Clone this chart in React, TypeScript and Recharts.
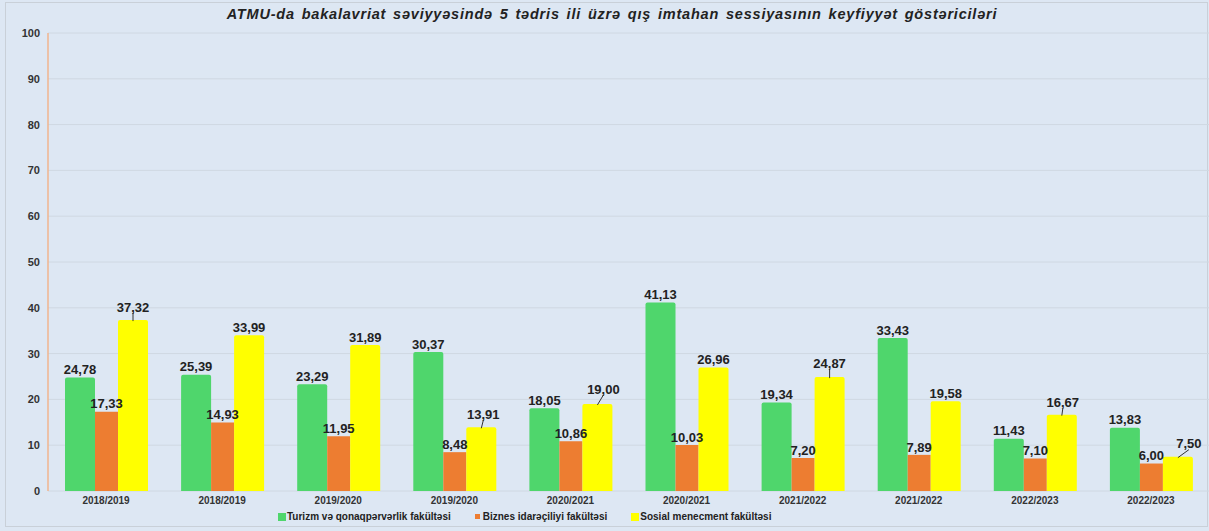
import React from 'react';
import { BarChart, Bar, XAxis, YAxis, CartesianGrid, LabelList } from 'recharts';

const W = 1209;
const H = 531;

const years = [
  '2018/2019', '2018/2019', '2019/2020', '2019/2020', '2020/2021',
  '2020/2021', '2021/2022', '2021/2022', '2022/2023', '2022/2023',
];
const turizm = [24.78, 25.39, 23.29, 30.37, 18.05, 41.13, 19.34, 33.43, 11.43, 13.83];
const biznes = [17.33, 14.93, 11.95, 8.48, 10.86, 10.03, 7.2, 7.89, 7.1, 6.0];
const sosial = [37.32, 33.99, 31.89, 13.91, 19.0, 26.96, 24.87, 19.58, 16.67, 7.5];
const yTicks = [0, 10, 20, 30, 40, 50, 60, 70, 80, 90, 100];

const seriesNames = [
  'Turizm və qonaqpərvərlik fakültəsi',
  'Biznes idarəçiliyi fakültəsi',
  'Sosial menecment fakültəsi',
];
const title =
  'ATMU-da bakalavriat səviyyəsində 5 tədris ili üzrə qış imtahan sessiyasının keyfiyyət göstəriciləri';

// label shifts for the yellow series where the label was dragged off the bar (leader line)
const yellowShift: [number, number][] = [
  [0, -5], [0, 0], [0, 0], [2, -5], [6, -7], [0, 0], [0, -6], [0, 0], [1, -4], [11, -5],
];

const GREEN = '#4fd66c';
const ORANGE = '#ed7d31';
const YELLOW = '#ffff00';
const BG = '#dde7f3';
const FONT = '"Liberation Sans", Arial, sans-serif';

const data = years.map((y, i) => ({
  year: y,
  turizm: turizm[i],
  biznes: biznes[i],
  sosial: sosial[i],
}));

const fmt = (v: number) => v.toFixed(2).replace('.', ',');

const makeLabel = (shifts?: [number, number][]) => (props: any) => {
  const { x, y, width, value, index } = props;
  const cx = Number(x) + Number(width) / 2;
  const top = Number(y);
  const [dx, dy] = shifts ? shifts[index] : [0, 0];
  const ly = top - 8 + dy;
  const lx = cx + dx;
  return (
    <g>
      {(dx !== 0 || dy !== 0) && (
        <line x1={cx} y1={top + 1} x2={lx} y2={ly + 6} stroke="#333" strokeWidth={1} />
      )}
      <text
        x={lx}
        y={ly}
        dy="0.36em"
        textAnchor="middle"
        fontFamily={FONT}
        fontWeight="bold"
        fontSize={13}
        fill="#222"
      >
        {fmt(Number(value))}
      </text>
    </g>
  );
};

const legendSizes = [8, 5, 8];
const legendColors = [GREEN, ORANGE, YELLOW];

export default function App() {
  return (
    <div
      style={{
        position: 'absolute',
        left: 0,
        top: 0,
        width: W,
        height: H,
        background: BG,
        fontFamily: FONT,
      }}
    >
      <div
        style={{
          position: 'absolute',
          left: 5,
          top: 2,
          width: W - 6,
          height: 525,
          border: '1px solid #c9d0d8',
          boxSizing: 'border-box',
        }}
      />
      <div
        style={{
          position: 'absolute',
          left: 0,
          top: 6,
          width: 1224,
          textAlign: 'center',
          fontSize: 14.5,
          letterSpacing: 0.8,
          wordSpacing: 2,
          fontWeight: 'bold',
          fontStyle: 'italic',
          color: '#222',
        }}
      >
        {title}
      </div>
      <div style={{ position: 'absolute', left: 0, top: 0 }}>
        <BarChart
          width={W}
          height={H}
          data={data}
          margin={{ top: 33, right: 0, bottom: 0, left: 0 }}
          barGap={0}
          barCategoryGap={0}
        >
          <CartesianGrid vertical={false} stroke="#cfd8e2" strokeWidth={1} />
          <XAxis
            dataKey="year"
            height={40}
            axisLine={false}
            tickLine={false}
            tickSize={0}
            tickMargin={6}
            interval={0}
            tick={{ fontSize: 10, fontWeight: 'bold', fill: '#333', fontFamily: FONT }}
          />
          <YAxis
            width={48}
            domain={[0, 100]}
            ticks={yTicks}
            interval={0}
            axisLine={{ stroke: '#f1b58e', strokeWidth: 1.5 }}
            tickLine={false}
            tickSize={0}
            tickMargin={8}
            tick={{ fontSize: 11, fontWeight: 'bold', fill: '#333', fontFamily: FONT }}
          />
          <Bar
            dataKey="turizm"
            fill={GREEN}
            barSize={30}
            radius={[2, 2, 0, 0]}
            isAnimationActive={false}
          >
            <LabelList dataKey="turizm" content={makeLabel()} />
          </Bar>
          <Bar dataKey="biznes" fill={ORANGE} barSize={23} isAnimationActive={false}>
            <LabelList dataKey="biznes" content={makeLabel()} />
          </Bar>
          <Bar dataKey="sosial" fill={YELLOW} barSize={30} radius={[2, 2, 0, 0]} isAnimationActive={false}>
            <LabelList dataKey="sosial" content={makeLabel(yellowShift)} />
          </Bar>
        </BarChart>
      </div>
      <div
        style={{
          position: 'absolute',
          left: 278,
          top: 511,
          display: 'flex',
          alignItems: 'center',
          gap: 24,
          fontSize: 10,
          fontWeight: 'bold',
          color: '#222',
          whiteSpace: 'nowrap',
        }}
      >
        {seriesNames.map((name, i) => (
          <div key={name} style={{ display: 'flex', alignItems: 'center' }}>
            <span
              style={{
                display: 'inline-block',
                width: legendSizes[i],
                height: legendSizes[i],
                background: legendColors[i],
                marginRight: i === 1 ? 3 : 1,
              }}
            />
            <span>{name}</span>
          </div>
        ))}
      </div>
    </div>
  );
}
